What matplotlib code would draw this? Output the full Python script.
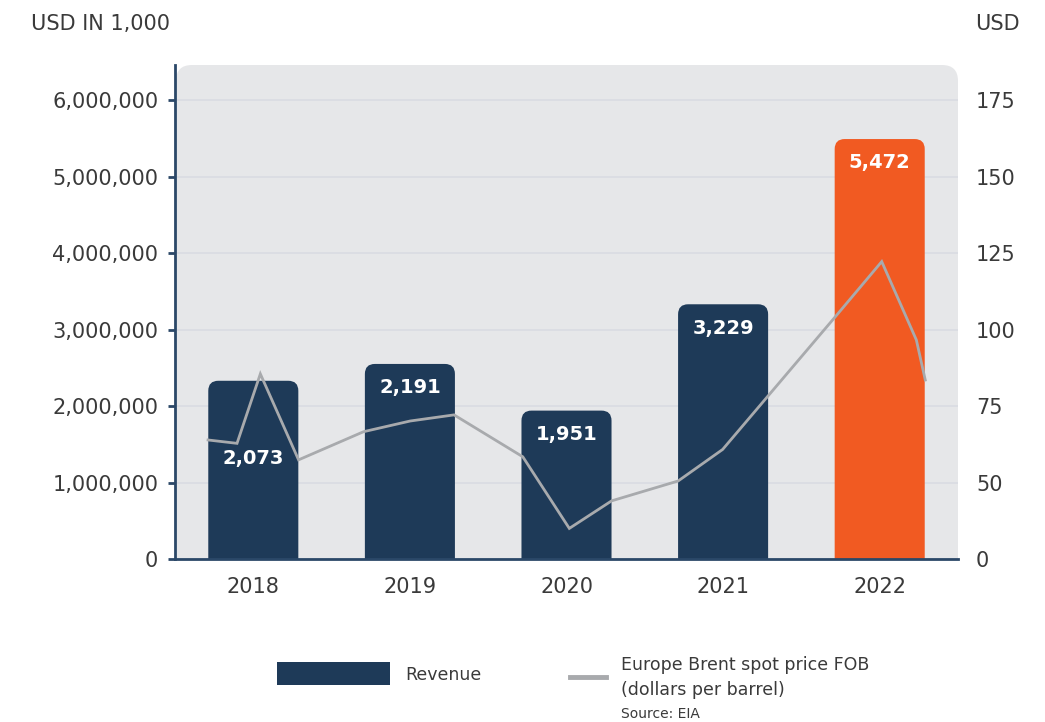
import matplotlib
matplotlib.use("Agg")
import matplotlib.pyplot as plt
from matplotlib.patches import FancyBboxPatch, Rectangle
from matplotlib.lines import Line2D

# ---------------- data ----------------
years = ["2018", "2019", "2020", "2021", "2022"]
revenue = [2330000, 2550000, 1940000, 3330000, 5490000]          # bar heights (USD 1,000)
revenue_labels = ["2,073", "2,191", "1,951", "3,229", "5,472"]   # printed labels
bar_colors = ["#1e3a58", "#1e3a58", "#1e3a58", "#1e3a58", "#f15a22"]

# Brent spot price line (x in category units, y in right-axis units)
brent_x = [-0.289, -0.104, 0.045, 0.289, 0.704, 1.002, 1.282, 1.721,
           2.018, 2.288, 2.713, 2.997, 3.717, 4.013, 4.234, 4.291]
brent_y = [63.9, 62.8, 85.5, 57.4, 66.6, 70.1, 72.1, 58.4,
           35.0, 44.0, 50.5, 60.8, 104.2, 122.2, 96.6, 83.5]

left_ticks = [0, 1000000, 2000000, 3000000, 4000000, 5000000, 6000000]
left_ticklabels = ["0", "1,000,000", "2,000,000", "3,000,000", "4,000,000", "5,000,000", "6,000,000"]
right_ticks = [25, 50, 75, 100, 125, 150, 175]
right_ticklabels = ["0", "50", "75", "100", "125", "150", "175"]

# ---------------- style ----------------
plt.rcParams['font.family'] = ['DejaVu Sans']
NAVY = "#1e3a58"
SPINE = "#2b4868"
TXT = "#3a3a3a"
BG = "#e6e7e9"
GRID = "#d9dbe2"
LINE = "#a8aaad"

W, H = 1045, 722
fig = plt.figure(figsize=(W / 100, H / 100), dpi=100)
ax_l, ax_r, ax_b, ax_t = 175, 958, 559, 65
ax = fig.add_axes([ax_l / W, 1 - ax_b / H, (ax_r - ax_l) / W, (ax_b - ax_t) / H])
ax.set_facecolor("none")

ymax = 6.458e6
ax.set_xlim(-0.5, 4.5)
ax.set_ylim(0, ymax)

# rounded background panel
bg = FancyBboxPatch(((ax_l + 1) / 100, (H - ax_b - 30) / 100),
                    (ax_r - ax_l - 1) / 100, (ax_b - ax_t + 30) / 100,
                    boxstyle="round,pad=0,rounding_size=0.16",
                    transform=fig.dpi_scale_trans, facecolor=BG, edgecolor="none",
                    zorder=0)
ax.add_patch(bg)
bg.set_clip_path(ax.patch)

# gridlines
ax.set_axisbelow(True)
ax.yaxis.grid(True, color=GRID, lw=1.2)
ax.xaxis.grid(False)

# rounded bars
px_per_x = (ax_r - ax_l) / 5.0
px_per_y = (ax_b - ax_t) / ymax
bar_w = 0.575
rad_px = 10
rx = rad_px / px_per_x
ry = rad_px / px_per_y
for i, (v, c) in enumerate(zip(revenue, bar_colors)):
    p = FancyBboxPatch((i - bar_w / 2, -ry * 2), bar_w, v + ry * 2,
                       boxstyle=f"round,pad=0,rounding_size={rx}",
                       mutation_aspect=ry / rx,
                       facecolor=c, edgecolor="none", zorder=2)
    ax.add_patch(p)
    p.set_clip_path(ax.patch)

# bar labels
label_offsets_px = [78, 24, 24, 24, 23]
for i, (v, lab) in enumerate(zip(revenue, revenue_labels)):
    ax.text(i, v - label_offsets_px[i] / px_per_y, lab, ha="center", va="center",
            color="white", fontsize=14, fontweight="bold", zorder=5)

ax.set_xlim(-0.5, 4.5)
ax.set_ylim(0, ymax)

# axes styling
for s in ["top", "right"]:
    ax.spines[s].set_visible(False)
ax.spines["left"].set_color(SPINE)
ax.spines["left"].set_linewidth(2)
ax.spines["bottom"].set_color(SPINE)
ax.spines["bottom"].set_linewidth(2)
ax.spines["bottom"].set_zorder(6)
ax.set_yticks(left_ticks)
ax.set_yticklabels(left_ticklabels)
ax.set_xticks(range(len(years)))
ax.set_xticklabels(years)
ax.tick_params(axis="y", length=5, width=2, color=SPINE, pad=7, labelsize=15, labelcolor=TXT)
ax.tick_params(axis="x", length=0, pad=13, labelsize=15, labelcolor=TXT)

# right axis with line
ax2 = ax.twinx()
ax2.set_ylim(25, 25 + 25 * ymax / 1e6)
ax2.plot(brent_x, brent_y, color=LINE, lw=2, zorder=4, solid_joinstyle="miter")
ax2.set_yticks(right_ticks)
ax2.set_yticklabels(right_ticklabels)
ax2.tick_params(axis="y", length=0, pad=13, labelsize=15, labelcolor=TXT)
for s in ["top", "right", "left", "bottom"]:
    ax2.spines[s].set_visible(False)
ax2.set_xlim(-0.5, 4.5)

# axis titles
fig.text(31 / W, 1 - 24 / H, "USD IN 1,000", ha="left", va="center", fontsize=15, color=TXT)
fig.text(975 / W, 1 - 24 / H, "USD", ha="left", va="center", fontsize=15, color=TXT)

# legend (manual)
fig.add_artist(Rectangle((277 / W, 1 - 685 / H), 113 / W, 23 / H,
                         transform=fig.transFigure, facecolor=NAVY, edgecolor="none"))
fig.text(405 / W, 1 - 675 / H, "Revenue", ha="left", va="center", fontsize=12.5, color=TXT)
fig.add_artist(Line2D([570 / W, 606 / W], [1 - 677 / H, 1 - 677 / H],
                      transform=fig.transFigure, color=LINE, lw=3.5))
fig.text(621 / W, 1 - 665 / H, "Europe Brent spot price FOB", ha="left", va="center",
         fontsize=12.5, color=TXT)
fig.text(621 / W, 1 - 690 / H, "(dollars per barrel)", ha="left", va="center",
         fontsize=12.5, color=TXT)
fig.text(621 / W, 1 - 714 / H, "Source: EIA", ha="left", va="center",
         fontsize=10, color=TXT)

fig.savefig("out.png", dpi=100)
